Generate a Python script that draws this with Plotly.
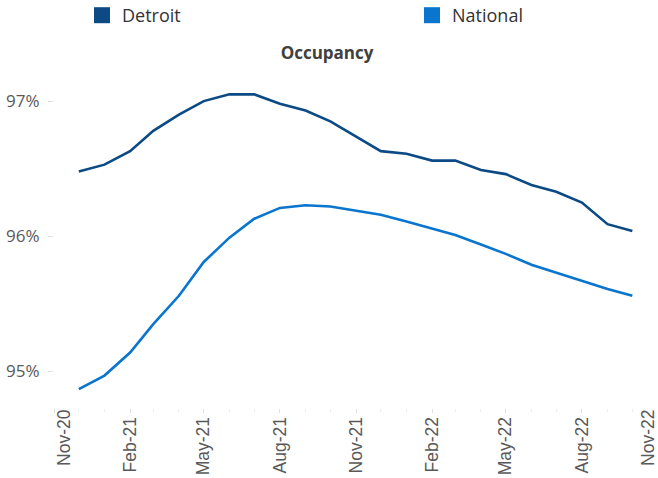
import plotly.graph_objects as go

months = ["2020-12-01", "2021-01-01", "2021-02-01", "2021-03-01", "2021-04-01", "2021-05-01",
          "2021-06-01", "2021-07-01", "2021-08-01", "2021-09-01", "2021-10-01", "2021-11-01",
          "2021-12-01", "2022-01-01", "2022-02-01", "2022-03-01", "2022-04-01", "2022-05-01",
          "2022-06-01", "2022-07-01", "2022-08-01", "2022-09-01", "2022-10-01"]

detroit = [96.48, 96.53, 96.63, 96.78, 96.90, 97.00, 97.05, 97.05, 96.98, 96.93, 96.85, 96.74,
           96.63, 96.61, 96.56, 96.56, 96.49, 96.46, 96.38, 96.33, 96.25, 96.09, 96.04]

national = [94.87, 94.97, 95.14, 95.35, 95.56, 95.81, 95.99, 96.13, 96.21, 96.23, 96.22, 96.19,
            96.16, 96.11, 96.06, 96.01, 95.94, 95.87, 95.79, 95.73, 95.67, 95.61, 95.56]

tick_dates = ["2020-11-01", "2021-02-01", "2021-05-01", "2021-08-01", "2021-11-01",
              "2022-02-01", "2022-05-01", "2022-08-01", "2022-11-01"]
tick_labels = ["Nov-20", "Feb-21", "May-21", "Aug-21", "Nov-21",
               "Feb-22", "May-22", "Aug-22", "Nov-22"]
y_ticks = [95, 96, 97]
y_labels = ["95%", "96%", "97%"]

DET = "#0B4A84"
NAT = "#0A75CF"
LABEL = "#595959"

fig = go.Figure()
fig.add_trace(go.Scatter(x=months, y=detroit, mode="lines", line=dict(color=DET, width=2.6),
                         showlegend=False, name="Detroit"))
fig.add_trace(go.Scatter(x=months, y=national, mode="lines", line=dict(color=NAT, width=2.6),
                         showlegend=False, name="National"))
# legend-only entries with square swatches (also anchor the end-label axes)
fig.add_trace(go.Scatter(x=[None], y=[None], mode="markers", name="Detroit", xaxis="x2",
                         legend="legend",
                         marker=dict(symbol="square", size=16, color=DET)))
fig.add_trace(go.Scatter(x=[None], y=[None], mode="markers", name="National", xaxis="x3",
                         legend="legend2",
                         marker=dict(symbol="square", size=16, color=NAT)))

xfont = dict(family="Liberation Sans", size=17.5, color=LABEL)
x_common = dict(type="date", tickmode="array", tickangle=-90, showgrid=False,
                zeroline=False, showline=False, tickfont=xfont, ticklabeloverflow="allow",
                ticklabelstandoff=-3, automargin=False, fixedrange=True)

# middle labels on the main axis; first / last labels nudged inward like the original
mid_text = [""] + tick_labels[1:-1] + [""]

legend_common = dict(orientation="h", xref="paper", yref="container",
                     xanchor="left", yanchor="middle", y=1 - 15.5 / 478,
                     font=dict(family="Open Sans", size=18, color="#333333"),
                     bgcolor="rgba(0,0,0,0)", borderwidth=0)

fig.update_layout(
    width=658, height=478,
    margin=dict(l=54, r=0, t=70, b=70),
    paper_bgcolor="white", plot_bgcolor="white",
    title=dict(text="<b>Occupancy</b>", x=0.497, xref="container", y=1 - 53 / 478,
               yref="container", xanchor="center", yanchor="middle",
               font=dict(family="Open Sans", size=17, color="#404040")),
    legend=dict(x=(82 - 54) / 604, **legend_common),
    legend2=dict(x=(412 - 54) / 604, **legend_common),
    xaxis=dict(range=["2020-11-01", "2022-11-01"], tickvals=tick_dates, ticktext=mid_text,
               ticks="outside", ticklen=4, tickcolor="#e0e0e0",
               minor=dict(ticks="outside", ticklen=3, tickcolor="#ececec", dtick="M1",
                          showgrid=False),
               **x_common),
    xaxis2=dict(overlaying="x", matches="x", anchor="y", side="bottom",
                tickvals=tick_dates[-1:], ticktext=tick_labels[-1:], ticks="",
                ticklen=4, ticklabelshift=-10, **x_common),
    xaxis3=dict(overlaying="x", matches="x", anchor="y", side="bottom",
                tickvals=tick_dates[:1], ticktext=tick_labels[:1], ticks="",
                ticklen=4, ticklabelshift=10, **x_common),
    yaxis=dict(range=[94.73, 97.23], tickmode="array", tickvals=y_ticks, ticktext=y_labels,
               showgrid=False, zeroline=False, showline=False,
               ticks="outside", ticklen=5, tickcolor="#e0e0e0", ticklabelstandoff=5,
               tickfont=dict(family="Open Sans", size=17, color=LABEL),
               automargin=False, fixedrange=True),
)

fig.write_html("out.html", config={"displayModeBar": False},
               post_script="document.body.style.margin='0px';")
